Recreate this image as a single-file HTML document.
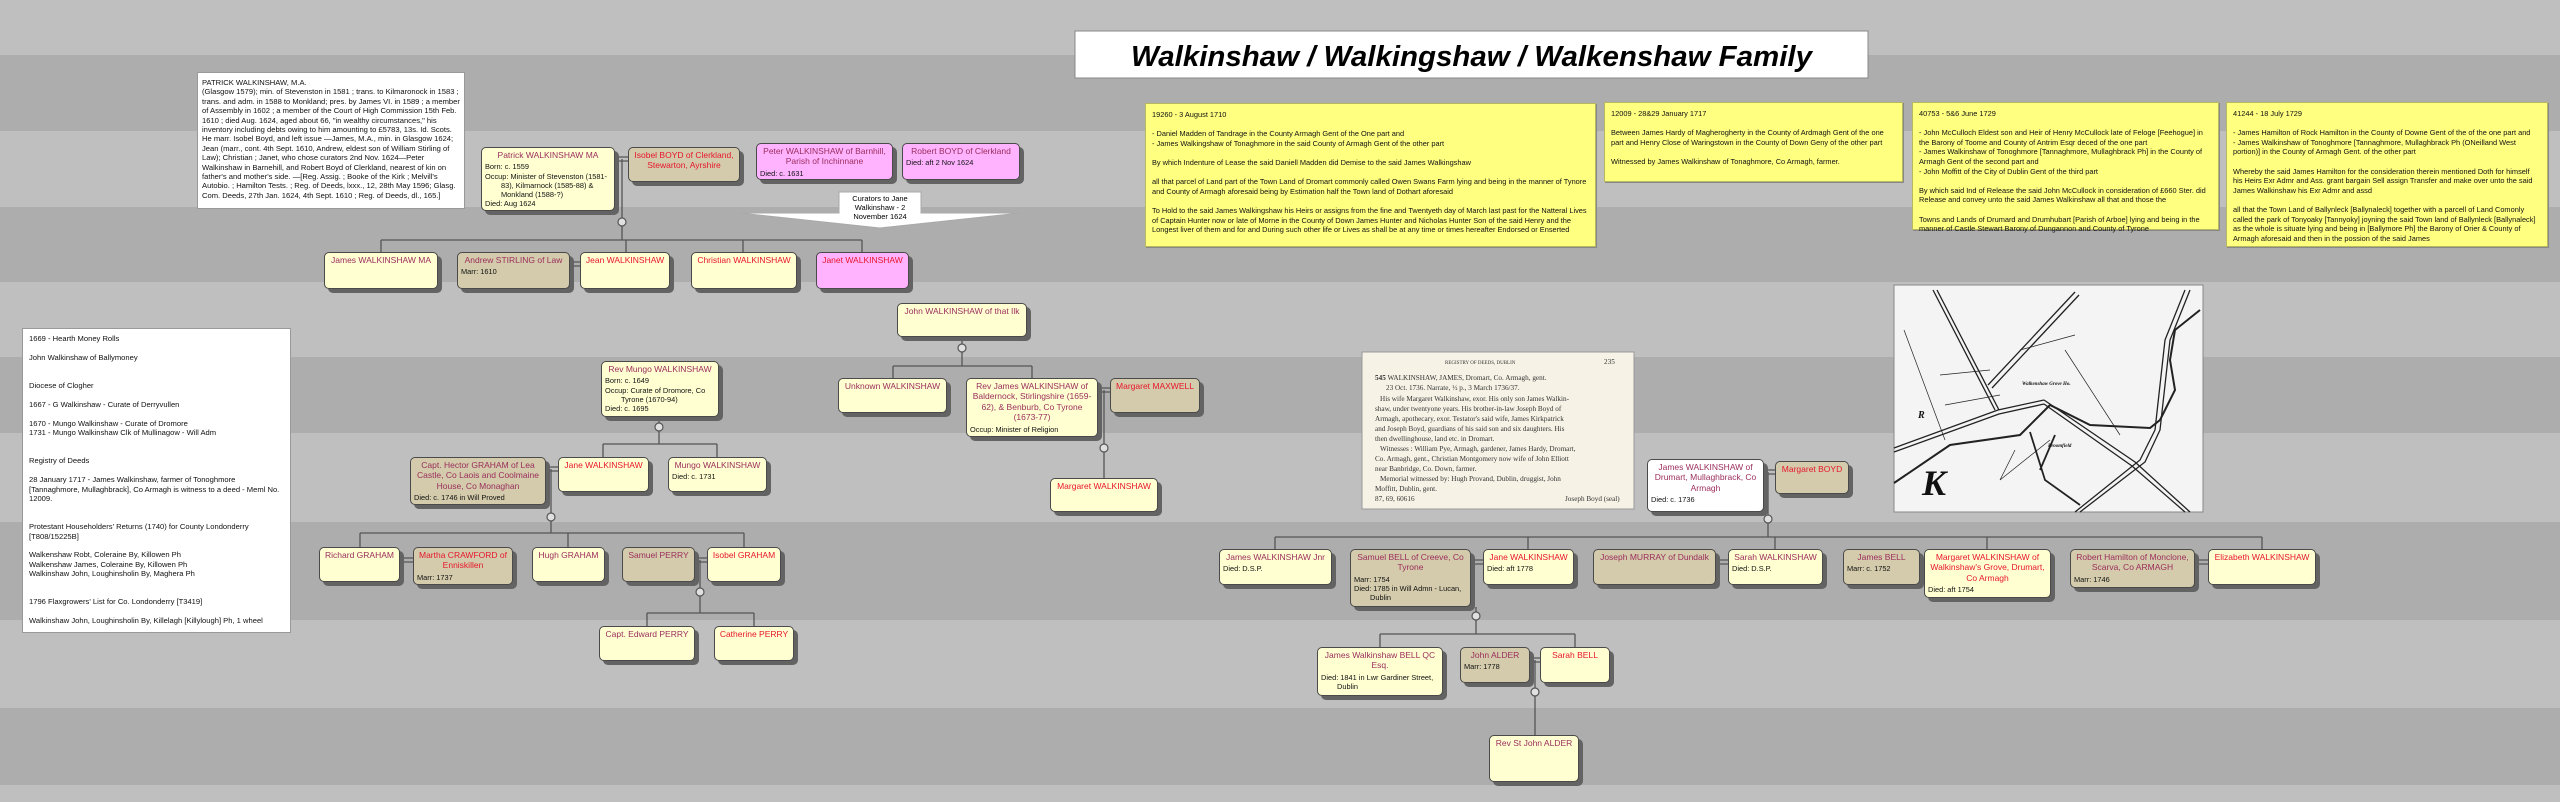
<!DOCTYPE html>
<html><head><meta charset="utf-8">
<style>
*{margin:0;padding:0}
body{width:2560px;height:802px;position:relative;overflow:hidden;background:#bfbfbf;font-family:"Liberation Sans",Arial,sans-serif}
.band{position:absolute;left:0;width:2560px;background:#adadad}
.n{position:absolute;box-sizing:border-box;border:1px solid #4a4a4a;border-radius:5px;box-shadow:4px 4px 0 #636363;background:#ffffd2;font-size:7.4px;line-height:9.2px;padding:2px 3px;color:#111;z-index:3;overflow:hidden}
.t{background:#d3cbab}.p{background:#ffb3ff}.w{background:#fff}
.nm{display:block;text-align:center;color:#9b2d5c;font-size:8.5px;line-height:10.4px;margin-bottom:2px}
.f{color:#e8152b}
.ind{padding-left:16px;text-indent:-16px}
.note{position:absolute;box-sizing:border-box;background:#fff;border:1px solid #999;font-size:7.6px;line-height:9.4px;color:#111;padding:6px 6px;z-index:2}
.y{background:#ffff80;border:1px solid #b8b860;box-shadow:1px 1px 0 #888;font-size:7.4px;line-height:9.6px}
svg{position:absolute;left:0;top:0;z-index:1}
</style></head><body>
<div class="band" style="top:55px;height:76px"></div>
<div class="band" style="top:207px;height:75px"></div>
<div class="band" style="top:357px;height:76px"></div>
<div class="band" style="top:522px;height:98px"></div>
<div class="band" style="top:708px;height:77px"></div>

<svg width="2560" height="802" viewBox="0 0 2560 802">
<g stroke="#555" stroke-width="1.3" fill="none">
<path d="M615 157H628M615 161H628M622 159V218M622 226V240M381 240H862M381 240V252M626 240V252M743 240V252M862 240V252"/>
<path d="M570 262H580M570 266H580"/>
<path d="M962 337V344M962 352V366M893 366H1032M893 366V378M1032 366V378"/>
<path d="M1098 388H1110M1098 392H1110M1104 390V444M1104 452V478"/>
<path d="M659 417V423M659 431V444M603 444H717M603 444V457M717 444V457"/>
<path d="M546 467H558M546 471H558M551 469V513M551 521V533M360 533H744M360 533V547M568 533V547M744 533V547"/>
<path d="M400 558H413M400 562H413M695 558H707M695 562H707M700 560V588M700 596V613M647 613H754M647 613V626M754 613V626"/>
<path d="M1764 470H1775M1764 474H1775M1768 472V515M1768 523V537M1275 537H2262M1275 537V549M1528 537V549M1775 537V549M1987 537V549M2262 537V549"/>
<path d="M1471 560H1483M1471 564H1483M1716 560H1728M1716 564H1728M1920 560H1924M1920 564H1924M2195 560H2208M2195 564H2208"/>
<path d="M1476 607V612M1476 620V634M1380 634H1575M1380 634V647M1575 634V647"/>
<path d="M1530 658H1540M1530 662H1540M1535 660V688M1535 696V735"/>
</g>
<g stroke="#555" stroke-width="1.2" fill="#e0e0e0">
<circle cx="622" cy="222" r="4"/><circle cx="962" cy="348" r="4"/><circle cx="1104" cy="448" r="4"/>
<circle cx="659" cy="427" r="4"/><circle cx="551" cy="517" r="4"/><circle cx="700" cy="592" r="4"/>
<circle cx="1768" cy="519" r="4"/><circle cx="1476" cy="616" r="4"/><circle cx="1535" cy="692" r="4"/>
</g>
<polygon points="839,192 921,192 921,213 1020,213 880,228 740,213 839,213" fill="#fff" stroke="#aaa" stroke-width="1"/>
<rect x="1075" y="31" width="793" height="47" fill="#fff" stroke="#888"/>
<text x="1131" y="66" font-family="Liberation Sans, sans-serif" font-weight="bold" font-style="italic" font-size="29" textLength="681" lengthAdjust="spacingAndGlyphs" fill="#000">Walkinshaw / Walkingshaw / Walkenshaw Family</text>
<rect x="1362" y="352" width="272" height="157" fill="#f6f3e6" stroke="#999"/>
<g font-family="Liberation Serif, serif" font-size="7.2" fill="#333">
<text x="1445" y="364" font-size="5">REGISTRY OF DEEDS, DUBLIN</text><text x="1604" y="364">235</text>
<text x="1375" y="380"><tspan font-weight="bold">545</tspan>  WALKINSHAW, JAMES, Dromart, Co. Armagh, gent.</text>
<text x="1386" y="390">23 Oct. 1736.  Narrate, ½ p., 3 March 1736/37.</text>
<text x="1380" y="401">His wife Margaret Walkinshaw, exor.  His only son James Walkin-</text>
<text x="1375" y="411">shaw, under twentyone years.  His brother-in-law Joseph Boyd of</text>
<text x="1375" y="421">Armagh, apothecary, exor.  Testator's said wife, James Kirkpatrick</text>
<text x="1375" y="431">and Joseph Boyd, guardians of his said son and six daughters.  His</text>
<text x="1375" y="441">then dwellinghouse, land etc. in Dromart.</text>
<text x="1380" y="451">Witnesses : William Pye, Armagh, gardener, James Hardy, Dromart,</text>
<text x="1375" y="461">Co. Armagh, gent., Christian Montgomery now wife of John Elliott</text>
<text x="1375" y="471">near Banbridge, Co. Down, farmer.</text>
<text x="1380" y="481">Memorial witnessed by:  Hugh Provand, Dublin, druggist, John</text>
<text x="1375" y="491">Moffitt, Dublin, gent.</text>
<text x="1375" y="501">87, 69, 60616</text><text x="1565" y="501">Joseph Boyd (seal)</text>
</g>
<rect x="1894" y="285" width="309" height="227" fill="#f4f4f4" stroke="#888"/>
<g stroke="#222" fill="none" stroke-width="1.3">
<path d="M1933 290L1995 410M1937 290L1999 410"/>
<path d="M2075 292L1988 385M2079 295L1992 388"/>
<path d="M1894 448L1998 410L2044 400M1894 452L1999 414L2044 404"/>
<path d="M1894 483L1950 445L2020 435L2050 405L2090 425L2150 428L2160 420" stroke-width="2"/>
<path d="M2044 400L2135 462L2190 512M2044 404L2132 466L2185 512"/>
<path d="M2185 290L2165 340L2155 430L2140 460L2075 512M2190 290L2170 340L2160 430L2145 462L2080 512"/>
<path d="M2200 310L2175 330L2170 360L2175 390L2160 420" stroke-width="2"/>
<path d="M2030 432L2045 480L2080 505M2055 435L2040 470" stroke-width="1.8"/>
<path d="M1904 330L1945 440M1940 375L1990 370M1945 405L2000 395M2065 350L2120 435M2020 350L2075 335" stroke-width="0.7"/>
<path d="M2015 450L2000 480L2050 440" stroke-width="0.7"/>
</g>
<g font-family="Liberation Serif, serif" fill="#111">
<text x="1922" y="495" font-size="36" font-style="italic" font-weight="bold">K</text>
<text x="1918" y="418" font-size="10" font-style="italic" font-weight="bold">R</text>
<text x="2022" y="385" font-size="5" font-weight="bold" font-style="italic">Walkenshaw Grove Ho.</text>
<text x="2048" y="447" font-size="5" font-weight="bold" font-style="italic">Broomfield</text>
</g>
</svg>

<div style="position:absolute;left:839px;top:194px;width:82px;text-align:center;font-size:7.5px;line-height:9px;z-index:4">Curators to Jane Walkinshaw - 2 November 1624</div>

<div class="note" style="left:197px;top:72px;width:268px;height:137px;padding:5px 4px">PATRICK WALKINSHAW, M.A.<br>(Glasgow 1579); min. of Stevenston in 1581 ; trans. to Kilmaronock in 1583 ; trans. and adm. in 1588 to Monkland; pres. by James VI. in 1589 ; a member of Assembly in 1602 ; a member of the Court of High Commission 15th Feb. 1610 ; died Aug. 1624, aged about 66, "in wealthy circumstances," his inventory including debts owing to him amounting to £5783, 13s. Id. Scots. He marr. Isobel Boyd, and left issue —James, M.A., min. in Glasgow 1624; Jean (marr., cont. 4th Sept. 1610, Andrew, eldest son of William Stirling of Law); Christian ; Janet, who chose curators 2nd Nov. 1624—Peter Walkinshaw in Barnehill, and Robert Boyd of Clerkland, nearest of kin on father's and mother's side. —[Reg. Assig. ; Booke of the Kirk ; Melvill's Autobio. ; Hamilton Tests. ; Reg. of Deeds, lxxx., 12, 28th May 1596; Glasg. Com. Deeds, 27th Jan. 1624, 4th Sept. 1610 ; Reg. of Deeds, dl., 165.]</div>

<div class="note" style="left:22px;top:328px;width:269px;height:305px;padding:5px 6px">1669 - Hearth Money Rolls<br><br>John Walkinshaw of Ballymoney<br><br><br>Diocese of Clogher<br><br>1667 - G Walkinshaw - Curate of Derryvullen<br><br>1670 - Mungo Walkinshaw - Curate of Dromore<br>1731 - Mungo Walkinshaw Clk of Mullinagow - Will Adm<br><br><br>Registry of Deeds<br><br>28 January 1717 - James Walkinshaw, farmer of Tonoghmore [Tannaghmore, Mullaghbrack], Co Armagh is witness to a deed - Meml No. 12009.<br><br><br>Protestant Householders' Returns (1740) for County Londonderry [T808/15225B]<br><br>Walkenshaw Robt, Coleraine By, Killowen Ph<br>Walkenshaw James, Coleraine By, Killowen Ph<br>Walkinshaw John, Loughinsholin By, Maghera Ph<br><br><br>1796 Flaxgrowers' List for Co. Londonderry [T3419]<br><br>Walkinshaw John, Loughinsholin By, Killelagh [Killylough] Ph,  1 wheel</div>

<div class="note y" style="left:1145px;top:103px;width:451px;height:144px">19260 - 3 August 1710<br><br>- Daniel Madden of Tandrage in the County Armagh Gent of the One part and<br>- James Walkingshaw of Tonaghmore in the said County of Armagh Gent of the other part<br><br>By which Indenture of Lease the said Daniell Madden did Demise to the said James Walkingshaw<br><br>all that parcel of Land part of the Town Land of Dromart commonly called Owen Swans Farm lying and being in the manner of Tynore and County of Armagh aforesaid being by Estimation half the Town land of Dothart aforesaid<br><br>To Hold to the said James Walkingshaw his Heirs or assigns from the fine and Twentyeth day of March last past for the Natteral Lives of Captain Hunter now or late of Morne in the County of Down James Hunter and Nicholas Hunter Son of the said Henry and the Longest liver of them and for and During such other life or Lives as shall be at any time or times hereafter Endorsed or Enserted</div>
<div class="note y" style="left:1604px;top:102px;width:299px;height:80px">12009 - 28&amp;29 January 1717<br><br>Between James Hardy of Magherogherty in the County of Ardmagh Gent of the one part and Henry Close of Waringstown in the County of Down Geny of the other part<br><br>Witnessed by James Walkinshaw of Tonaghmore, Co Armagh, farmer.</div>
<div class="note y" style="left:1912px;top:102px;width:307px;height:128px">40753 - 5&amp;6 June 1729<br><br>- John McCulloch Eldest son and Heir of Henry McCullock late of Feloge [Feehogue] in the Barony of Toome and County of Antrim Esqr deced of the one part<br>- James Walkinshaw of Tonoghmore [Tannaghmore, Mullaghbrack Ph] in the County of Armagh Gent of the second part and<br>- John Moffitt of the City of Dublin Gent of the third part<br><br>By which said Ind of Release the said John McCullock in consideration of £660 Ster. did Release and convey unto the said James Walkinshaw all that and those the<br><br>Towns and Lands of Drumard and Drumhubart [Parish of Arboe] lying and being in the manner of Castle Stewart Barony of Dungannon and County of Tyrone</div>
<div class="note y" style="left:2226px;top:102px;width:322px;height:145px;overflow:hidden">41244 - 18 July 1729<br><br>- James Hamilton of Rock Hamilton in the County of Downe Gent of the of the one part and<br>- James Walkinshaw of Tonoghmore [Tannaghmore, Mullaghbrack Ph (ONeilland West portion)] in the County of Armagh Gent. of the other part<br><br>Whereby the said James Hamilton for the consideration therein mentioned Doth for himself his Heirs Exr Admr and Ass. grant bargain Sell assign Transfer and make over unto the said James Walkinshaw his Exr Admr and assd<br><br>all that the Town Land of Ballynleck [Ballynaleck] together with a parcell of Land Comonly called the park of Tonyoaky [Tannyoky] joyning the said Town land of Ballynleck [Ballynaleck] as the whole is situate lying and being in [Ballymore Ph] the Barony of Orier &amp; County of Armagh aforesaid and then in the possion of the said James</div>

<div class="n" style="left:481px;top:147px;width:134px;height:64px"><span class="nm">Patrick WALKINSHAW MA</span>Born: c. 1559<div class="ind">Occup: Minister of Stevenston (1581-83), Kilmarnock (1585-88) &amp; Monkland (1588-?)</div>Died: Aug 1624</div>
<div class="n t" style="left:628px;top:147px;width:112px;height:35px"><span class="nm f">Isobel BOYD of Clerkland, Stewarton, Ayrshire</span></div>
<div class="n p" style="left:756px;top:143px;width:137px;height:37px"><span class="nm">Peter WALKINSHAW of Barnhill, Parish of Inchinnane</span>Died: c. 1631</div>
<div class="n p" style="left:902px;top:143px;width:118px;height:37px"><span class="nm">Robert BOYD of Clerkland</span>Died: aft 2 Nov 1624</div>

<div class="n" style="left:324px;top:252px;width:114px;height:37px"><span class="nm">James WALKINSHAW MA</span></div>
<div class="n t" style="left:457px;top:252px;width:113px;height:37px"><span class="nm">Andrew STIRLING of Law</span>Marr: 1610</div>
<div class="n" style="left:580px;top:252px;width:90px;height:37px"><span class="nm f">Jean WALKINSHAW</span></div>
<div class="n" style="left:691px;top:252px;width:106px;height:37px"><span class="nm f">Christian WALKINSHAW</span></div>
<div class="n p" style="left:816px;top:252px;width:93px;height:37px"><span class="nm f">Janet WALKINSHAW</span></div>

<div class="n" style="left:897px;top:303px;width:130px;height:34px"><span class="nm">John WALKINSHAW of that Ilk</span></div>
<div class="n" style="left:838px;top:378px;width:109px;height:35px"><span class="nm">Unknown WALKINSHAW</span></div>
<div class="n" style="left:966px;top:378px;width:132px;height:59px"><span class="nm">Rev James WALKINSHAW of Baldernock, Stirlingshire (1659-62), &amp; Benburb, Co Tyrone (1673-77)</span>Occup: Minister of Religion</div>
<div class="n t" style="left:1110px;top:378px;width:90px;height:35px"><span class="nm f">Margaret MAXWELL</span></div>
<div class="n" style="left:1050px;top:478px;width:108px;height:34px"><span class="nm f">Margaret WALKINSHAW</span></div>

<div class="n" style="left:601px;top:361px;width:118px;height:56px"><span class="nm">Rev Mungo WALKINSHAW</span>Born: c. 1649<div class="ind">Occup: Curate of Dromore, Co Tyrone (1670-94)</div>Died: c. 1695</div>
<div class="n t" style="left:410px;top:457px;width:136px;height:48px"><span class="nm">Capt. Hector GRAHAM of Lea Castle, Co Laois and Coolmaine House, Co Monaghan</span>Died: c. 1746 in Will Proved</div>
<div class="n" style="left:558px;top:457px;width:91px;height:35px"><span class="nm f">Jane WALKINSHAW</span></div>
<div class="n" style="left:668px;top:457px;width:99px;height:35px"><span class="nm">Mungo WALKINSHAW</span>Died: c. 1731</div>

<div class="n" style="left:319px;top:547px;width:81px;height:35px"><span class="nm">Richard GRAHAM</span></div>
<div class="n t" style="left:413px;top:547px;width:100px;height:38px"><span class="nm f">Martha CRAWFORD of Enniskillen</span>Marr: 1737</div>
<div class="n" style="left:532px;top:547px;width:73px;height:35px"><span class="nm">Hugh GRAHAM</span></div>
<div class="n t" style="left:622px;top:547px;width:73px;height:35px"><span class="nm">Samuel PERRY</span></div>
<div class="n" style="left:707px;top:547px;width:74px;height:35px"><span class="nm f">Isobel GRAHAM</span></div>
<div class="n" style="left:599px;top:626px;width:96px;height:35px"><span class="nm">Capt. Edward PERRY</span></div>
<div class="n" style="left:714px;top:626px;width:80px;height:35px"><span class="nm f">Catherine PERRY</span></div>

<div class="n w" style="left:1647px;top:459px;width:117px;height:53px"><span class="nm">James WALKINSHAW of Drumart, Mullaghbrack, Co Armagh</span>Died: c. 1736</div>
<div class="n t" style="left:1775px;top:461px;width:74px;height:33px"><span class="nm f">Margaret BOYD</span></div>

<div class="n" style="left:1219px;top:549px;width:113px;height:36px"><span class="nm">James WALKINSHAW Jnr</span>Died: D.S.P.</div>
<div class="n t" style="left:1350px;top:549px;width:121px;height:58px"><span class="nm">Samuel BELL of Creeve, Co Tyrone</span>Marr: 1754<div class="ind">Died: 1785 in Will Admn - Lucan, Dublin</div></div>
<div class="n" style="left:1483px;top:549px;width:91px;height:36px"><span class="nm f">Jane WALKINSHAW</span>Died: aft 1778</div>
<div class="n t" style="left:1593px;top:549px;width:123px;height:36px"><span class="nm">Joseph MURRAY of Dundalk</span></div>
<div class="n" style="left:1728px;top:549px;width:95px;height:36px"><span class="nm">Sarah WALKINSHAW</span>Died: D.S.P.</div>
<div class="n t" style="left:1843px;top:549px;width:77px;height:36px"><span class="nm">James BELL</span>Marr: c. 1752</div>
<div class="n" style="left:1924px;top:549px;width:127px;height:49px"><span class="nm f">Margaret WALKINSHAW of Walkinshaw's Grove, Drumart, Co Armagh</span>Died: aft 1754</div>
<div class="n t" style="left:2070px;top:549px;width:125px;height:39px"><span class="nm">Robert Hamilton of Monclone, Scarva, Co ARMAGH</span>Marr: 1746</div>
<div class="n" style="left:2208px;top:549px;width:108px;height:36px"><span class="nm f">Elizabeth WALKINSHAW</span></div>

<div class="n" style="left:1317px;top:647px;width:126px;height:49px"><span class="nm">James Walkinshaw BELL QC Esq.</span><div class="ind">Died: 1841 in Lwr Gardiner Street, Dublin</div></div>
<div class="n t" style="left:1460px;top:647px;width:70px;height:36px"><span class="nm">John ALDER</span>Marr: 1778</div>
<div class="n" style="left:1540px;top:647px;width:70px;height:36px"><span class="nm f">Sarah BELL</span></div>
<div class="n" style="left:1489px;top:735px;width:90px;height:47px"><span class="nm">Rev St John ALDER</span></div>
</body></html>
